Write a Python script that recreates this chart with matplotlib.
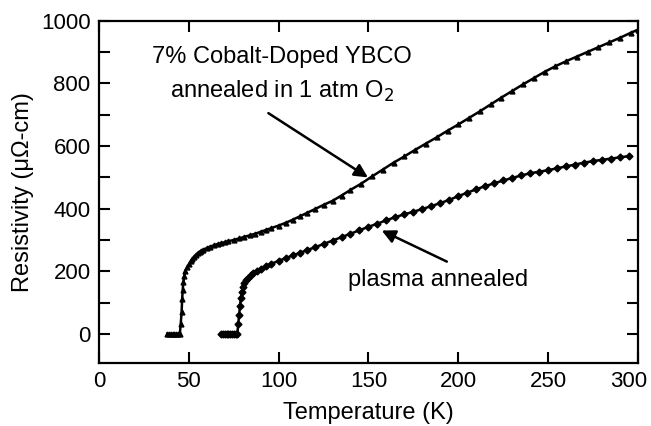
import matplotlib
matplotlib.use("Agg")
import matplotlib.pyplot as plt
from matplotlib.transforms import ScaledTranslation

plt.rcParams['font.family'] = ['Liberation Sans', 'DejaVu Sans']

# 7% Co-doped YBCO, annealed in 1 atm O2
temp_o2 = [38, 39, 40, 41, 42, 43, 44, 45, 45.5, 46, 46.3, 46.6, 47, 47.5, 48, 49, 50,
           51, 52, 53, 54, 55, 56, 57, 58, 60, 62, 64, 66, 68, 70, 72, 75, 78, 81, 84,
           87, 90, 93, 96, 100, 104, 108, 112, 116, 120, 125, 130, 135, 140, 146, 152,
           158, 164, 170, 176, 182, 188, 194, 200, 206, 212, 218, 224, 230, 236, 242,
           248, 254, 260, 266, 272, 278, 284, 290, 296, 300]
res_o2 = [0, 0, 0, 0, 0, 0, 0, 0, 30, 70, 110, 140, 165, 185, 200, 212, 222,
          232, 240, 247, 253, 258, 262, 266, 269, 274, 279, 283, 287, 290, 293, 296, 300, 305, 310, 315,
          320, 326, 332, 338, 346, 355, 365, 376, 387, 398, 412, 425, 442, 460, 480, 503,
          525, 547, 567, 588, 608, 628, 649, 669, 690, 711, 733, 755, 776, 797, 817,
          837, 855, 871, 886, 901, 916, 931, 946, 962, 972]

# plasma annealed
temp_pl = [68, 69, 70, 71, 72, 73, 74, 75, 76, 77, 77.5, 78, 78.5, 79, 79.5, 80.3, 81, 82,
           83, 84.5, 86, 88, 90, 93, 96, 100, 104, 108, 112, 116, 120, 125, 130, 135, 140,
           145, 150, 155, 160, 165, 170, 175, 180, 185, 190, 195, 200, 205, 210, 215, 220,
           225, 230, 235, 240, 245, 250, 255, 260, 265, 270, 275, 280, 285, 290, 295]
res_pl = [0, 0, 0, 0, 0, 0, 0, 0, 0, 0, 30, 60, 90, 115, 135, 150, 163, 173,
          180, 188, 195, 202, 208, 216, 224, 233, 242, 251, 259, 268, 276, 287, 298, 309, 320,
          331, 342, 352, 363, 373, 382, 390, 399, 408, 418, 428, 440, 451, 462, 472, 481,
          490, 498, 506, 513, 518, 523, 529, 535, 541, 547, 552, 556, 560, 564, 568]

fig = plt.figure(figsize=(6.51, 4.26), dpi=100)
ax = fig.add_axes([0.152, 0.148, 0.828, 0.803])

ax.plot(temp_o2, res_o2, color='black', lw=1.8, marker='^', ms=3.5)
ax.plot(temp_pl, res_pl, color='black', lw=1.8, marker='D', ms=3.5)

ax.set_xlim(0, 300)
ax.set_ylim(-93, 1000)
ax.set_xticks(range(0, 301, 50))
ax.set_yticks(range(0, 1001, 200))
ax.set_yticks(range(0, 1001, 100), minor=True)
ax.tick_params(which='both', direction='in', top=True, right=True, width=1.5,
               labelsize=16, pad=6, length=8)
for s in ax.spines.values():
    s.set_linewidth(1.6)

# keep the last x label inside the figure
last = ax.get_xticklabels()[-1]
last.set_transform(last.get_transform() + ScaledTranslation(-7 / 72, 0, fig.dpi_scale_trans))

ax.set_xlabel("Temperature (K)", fontsize=17, labelpad=7)
ax.set_ylabel("Resistivity (μΩ-cm)", fontsize=17, labelpad=5)

ax.text(102, 883, "7% Cobalt-Doped YBCO", fontsize=17, ha='center', va='center')
ax.text(102, 774, "annealed in 1 atm O$_2$", fontsize=17, ha='center', va='center')
ax.annotate("", xy=(151, 495), xytext=(93, 710),
            arrowprops=dict(arrowstyle='-|>', color='black', lw=1.8, mutation_scale=20))

ax.text(189, 173, "plasma annealed", fontsize=17, ha='center', va='center')
ax.annotate("", xy=(156, 334), xytext=(195, 227),
            arrowprops=dict(arrowstyle='-|>', color='black', lw=1.8, mutation_scale=20))

plt.savefig("out.png", dpi=100)
